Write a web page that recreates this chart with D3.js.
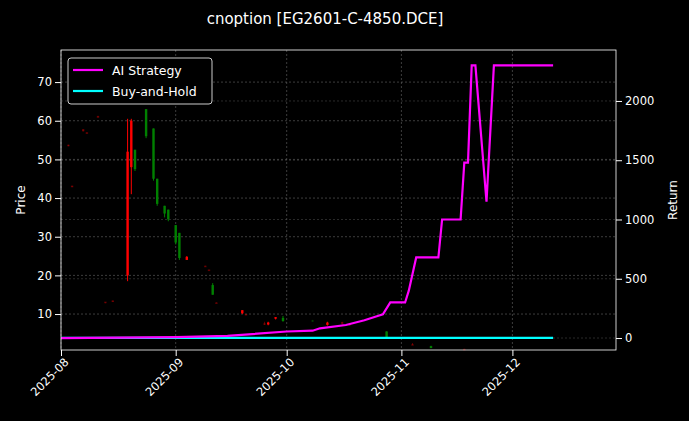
<!DOCTYPE html><html><head><meta charset="utf-8"><script src="https://cdn.jsdelivr.net/npm/d3@7"></script>
<style>body{margin:0;background:#000}text{font-family:"DejaVu Sans",sans-serif;fill:#fff}</style></head><body><svg id="c" width="689" height="421"></svg><script>
const candleDates=["2025-08-03","2025-08-04","2025-08-07","2025-08-08","2025-08-11","2025-08-13","2025-08-15","2025-08-19","2025-08-20","2025-08-21","2025-08-24","2025-08-26","2025-08-27","2025-08-29","2025-08-30","2025-09-01","2025-09-02","2025-09-04","2025-09-09","2025-09-10","2025-09-11","2025-09-12","2025-09-19","2025-09-20","2025-09-25","2025-09-26","2025-09-28","2025-09-30","2025-10-08","2025-10-12","2025-10-16","2025-10-18","2025-10-28","2025-11-04","2025-11-09","2025-11-18"];
const candleOpen =[53.8,43.2,57.8,57,61,13,13.5,20,48,47.5,63,58,45,38,37,33,31,24,22.5,21.5,15,13,10.2,10,7.4,7.3,8.8,8.2,8.2,7.2,7.5,7.2,4,2,1.2,0.9];
const candleHigh =[53.8,43.2,57.8,57,61.3,13,13.5,60.5,60.5,52.5,63,58,45,38,37,33,31,25,22.5,21.5,18,13,11,10,8,8,9.2,9.5,8.5,8,8,7.5,5.5,2.5,1.8,1];
const candleLow  =[53.4,42.8,57.2,56.7,60.8,12.8,13.2,18.5,41,47,55.5,44.5,38,35,34,28,24,24,22.3,21.3,15,12.8,10,9.8,7.2,7.1,8.6,8,8,7,7.2,7,4,2,1.2,0.9];
const candleClose=[53.5,43,57.3,56.8,61.2,13.2,13.4,52,60,52.5,56,45,38.5,36,34.5,28.5,24.5,24.8,22.4,21.4,17.5,12.9,11,9.9,7.6,7.8,9.2,9,8.4,7.8,7.9,7.4,5.5,2.2,1.7,1];
const candleColor=["r","r","r","r","r","r","r","r","r","g","g","g","g","g","g","g","g","r","r","r","g","r","r","r","r","r","r","g","g","r","r","r","g","r","g","r"];
const candleFaint=[1,1,1,1,1,1,1,0,0,0,0,0,0,0,0,0,0,0,1,1,0,1,0,1,1,0,0,0,1,0,1,1,0,1,0,1];
const stratDates=["2025-08-01","2025-09-01","2025-09-15","2025-10-01","2025-10-08","2025-10-10","2025-10-17","2025-10-22","2025-10-26","2025-10-27","2025-10-29","2025-11-02","2025-11-03","2025-11-05","2025-11-11","2025-11-12","2025-11-17","2025-11-18","2025-11-19","2025-11-20","2025-11-21","2025-11-24","2025-11-26","2025-12-12"];
const stratVals=[0,8,18,55,62,82,110,150,190,200,300,300,400,680,680,1000,1000,1480,1480,2300,2300,1150,2300,2300];
const holdDates=["2025-08-01","2025-12-12"];
const holdVals=[2,2];
const xTicks=["2025-08","2025-09","2025-10","2025-11","2025-12"];
const yTicks=[10,20,30,40,50,60,70];
const rTicks=[0,500,1000,1500,2000];
const P=d3.timeParse("%Y-%m-%d");
const svg=d3.select("#c");
const L=61,R=616,T=50,B=350;
const x=d3.scaleTime().domain([P("2025-08-01"),P("2025-12-29")]).range([L,R]);
const y=d3.scaleLinear().domain([0.7,78.3]).range([B,T]);
const y2=d3.scaleLinear().domain([-101,2430]).range([B,T]);
const g=svg.append("g");
xTicks.forEach(t=>g.append("line").attr("x1",x(P(t+"-01"))).attr("x2",x(P(t+"-01"))).attr("y1",T).attr("y2",B).attr("stroke","#666").attr("stroke-width",0.6).attr("stroke-dasharray","2,2"));
yTicks.forEach(t=>g.append("line").attr("x1",L).attr("x2",R).attr("y1",y(t)).attr("y2",y(t)).attr("stroke","#666").attr("stroke-width",0.6).attr("stroke-dasharray","2,2"));
rTicks.forEach(t=>g.append("line").attr("x1",L).attr("x2",R).attr("y1",y2(t)).attr("y2",y2(t)).attr("stroke","#555").attr("stroke-width",0.5).attr("stroke-dasharray","2,2"));
candleDates.forEach((d,i)=>{const cx=x(P(d));const col=candleColor[i]=="r"?"#ff0000":"#008000";const op=candleFaint[i]?0.35:1;
g.append("line").attr("x1",cx).attr("x2",cx).attr("y1",y(candleHigh[i])).attr("y2",y(candleLow[i])).attr("stroke",col).attr("opacity",op);
const t=Math.min(y(candleOpen[i]),y(candleClose[i]));const h=Math.max(1.5,Math.abs(y(candleOpen[i])-y(candleClose[i])));
g.append("rect").attr("x",cx-1.2).attr("width",2.4).attr("y",t).attr("height",h).attr("fill",col).attr("opacity",op);});
const ln=d3.line().x(d=>x(P(d[0]))).y(d=>y2(d[1]));
g.append("path").attr("d",ln(holdDates.map((d,i)=>[d,holdVals[i]]))).attr("stroke","#00ffff").attr("stroke-width",2.2).attr("fill","none");
g.append("path").attr("d",ln(stratDates.map((d,i)=>[d,stratVals[i]]))).attr("stroke","#ff00ff").attr("stroke-width",2.2).attr("fill","none");
g.append("rect").attr("x",L).attr("y",T).attr("width",R-L).attr("height",B-T).attr("fill","none").attr("stroke","#fff").attr("stroke-width",0.8);
const xa=svg.append("g").attr("transform",`translate(0,${B})`).call(d3.axisBottom(x).tickValues(xTicks.map(t=>P(t+"-01"))).tickFormat(d3.timeFormat("%Y-%m")).tickSizeOuter(0));
xa.selectAll("text").attr("transform","rotate(-45)").attr("text-anchor","end").attr("dx","-0.3em").attr("dy","0.5em").style("font-size","11.5px");
const ya=svg.append("g").attr("transform",`translate(${L},0)`).call(d3.axisLeft(y).tickValues(yTicks).tickSizeOuter(0));
ya.selectAll("text").style("font-size","11.5px");
const ra=svg.append("g").attr("transform",`translate(${R},0)`).call(d3.axisRight(y2).tickValues(rTicks).tickFormat(d3.format("d")).tickSizeOuter(0));
ra.selectAll("text").style("font-size","11.5px");
[xa,ya,ra].forEach(a=>{a.select(".domain").remove();a.selectAll("line").attr("stroke","#fff");});
svg.append("text").attr("x",325).attr("y",24).attr("text-anchor","middle").style("font-size","15px").text("cnoption [EG2601-C-4850.DCE]");
svg.append("text").attr("transform","translate(25,200) rotate(-90)").attr("text-anchor","middle").style("font-size","12px").text("Price");
svg.append("text").attr("transform","translate(677,200) rotate(-90)").attr("text-anchor","middle").style("font-size","12px").text("Return");
const lg=svg.append("g");
lg.append("rect").attr("x",68).attr("y",58).attr("width",144).attr("height",46).attr("rx",3).attr("fill","#000").attr("stroke","#ccc");
[["AI Strategy","#ff00ff"],["Buy-and-Hold","#00ffff"]].forEach((s,i)=>{const yy=70+i*21;
lg.append("line").attr("x1",73).attr("x2",103).attr("y1",yy).attr("y2",yy).attr("stroke",s[1]).attr("stroke-width",2.2);
lg.append("text").attr("x",112).attr("y",yy+4.5).style("font-size","12.5px").text(s[0]);});
</script></body></html>
